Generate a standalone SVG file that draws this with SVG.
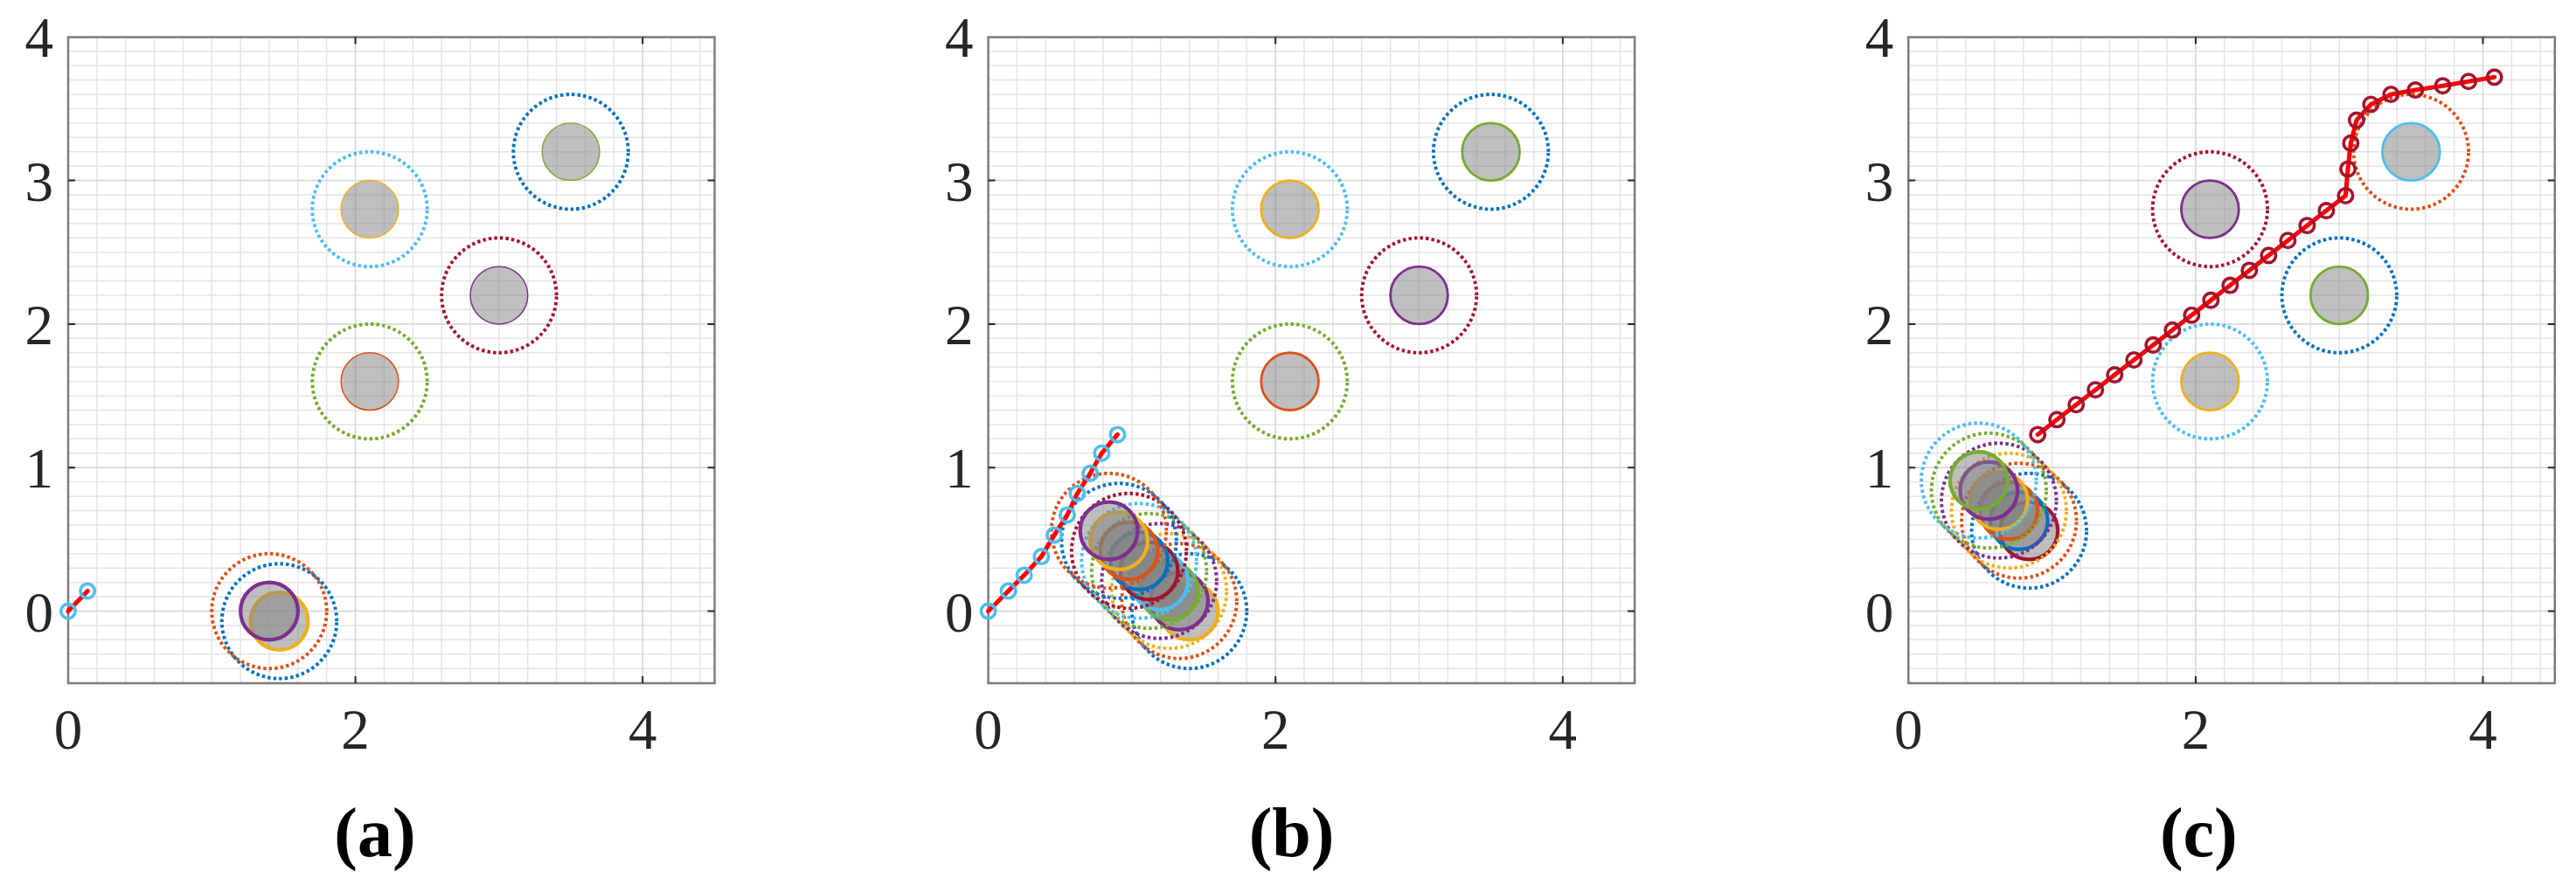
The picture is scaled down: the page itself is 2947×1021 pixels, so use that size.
<svg xmlns="http://www.w3.org/2000/svg" xmlns:xlink="http://www.w3.org/1999/xlink" width="2947" height="1021" viewBox="0 0 2947 1021">
<style>
.tick{font-family:"Liberation Serif","Times New Roman",serif;font-size:65px;fill:#262626}
.tx{text-anchor:middle}
.ty{text-anchor:end}
.lab{font-family:"Liberation Serif","Times New Roman",serif;font-size:80px;font-weight:bold;text-anchor:middle;fill:#000}
.gmin{fill:none;stroke:#e4e4e4;stroke-width:0.009}
.gmaj{fill:none;stroke:#d4d4d4;stroke-width:0.009}
.box{fill:none;stroke:#7c7c7c;stroke-width:2.5}
.tk{stroke:#262626;stroke-width:2}
.dot{fill:none;stroke-width:0.024;stroke-dasharray:0.021 0.019}
.obs{fill:#7f7f7f;fill-opacity:0.5}
.thin{stroke-width:0.009}
.med{stroke-width:0.017}
.thick{stroke-width:0.026}
.c0{stroke:#0072BD}.c1{stroke:#D95319}.c2{stroke:#EDB120}.c3{stroke:#7E2F8E}.c4{stroke:#77AC30}.c5{stroke:#4DBEEE}.c6{stroke:#A2142F}
.path{fill:none;stroke:#FF0000;stroke-width:0.031;stroke-linejoin:round;stroke-linecap:round}
.mk{fill:none;stroke-width:0.022}
</style>
<defs>
<g id="axes">
<g transform="translate(78 699.5) scale(164.3 -164.3)">
<path class="gmin" d="M0.2 -0.5V4M0.4 -0.5V4M0.6 -0.5V4M0.8 -0.5V4M1 -0.5V4M1.2 -0.5V4M1.4 -0.5V4M1.6 -0.5V4M1.8 -0.5V4M2.2 -0.5V4M2.4 -0.5V4M2.6 -0.5V4M2.8 -0.5V4M3 -0.5V4M3.2 -0.5V4M3.4 -0.5V4M3.6 -0.5V4M3.8 -0.5V4M4.2 -0.5V4M4.4 -0.5V4M0 -0.4H4.5M0 -0.3H4.5M0 -0.2H4.5M0 -0.1H4.5M0 0.1H4.5M0 0.2H4.5M0 0.3H4.5M0 0.4H4.5M0 0.5H4.5M0 0.6H4.5M0 0.7H4.5M0 0.8H4.5M0 0.9H4.5M0 1.1H4.5M0 1.2H4.5M0 1.3H4.5M0 1.4H4.5M0 1.5H4.5M0 1.6H4.5M0 1.7H4.5M0 1.8H4.5M0 1.9H4.5M0 2.1H4.5M0 2.2H4.5M0 2.3H4.5M0 2.4H4.5M0 2.5H4.5M0 2.6H4.5M0 2.7H4.5M0 2.8H4.5M0 2.9H4.5M0 3.1H4.5M0 3.2H4.5M0 3.3H4.5M0 3.4H4.5M0 3.5H4.5M0 3.6H4.5M0 3.7H4.5M0 3.8H4.5M0 3.9H4.5"/>
<path class="gmaj" d="M2 -0.5V4M4 -0.5V4M0 0H4.5M0 1H4.5M0 2H4.5M0 3H4.5"/>
</g>
<rect class="box" x="78" y="42.5" width="739.5" height="739.5"/>
<path class="tk" d="M406.6 782v-8M735.2 782v-8M406.6 42.5v8M735.2 42.5v8M78 535.2h8M78 370.9h8M78 206.6h8M817.5 699.5h-8M817.5 535.2h-8M817.5 370.9h-8M817.5 206.6h-8"/>
</g>
</defs>

<!-- Panel (a) -->
<g id="panel-a">
<use xlink:href="#axes" href="#axes"/>
<g transform="translate(78 699.5) scale(164.3 -164.3)">
<g id="a-static">
<g id="a-obs1"><circle class="obs thin c1" cx="2.1" cy="1.6" r="0.2"/><circle class="dot c4" cx="2.1" cy="1.6" r="0.4"/></g>
<g id="a-obs2"><circle class="obs thin c2" cx="2.1" cy="2.8" r="0.2"/><circle class="dot c5" cx="2.1" cy="2.8" r="0.4"/></g>
<g id="a-obs3"><circle class="obs thin c3" cx="3.0" cy="2.2" r="0.2"/><circle class="dot c6" cx="3.0" cy="2.2" r="0.4"/></g>
<g id="a-obs4"><circle class="obs thin c4" cx="3.5" cy="3.2" r="0.2"/><circle class="dot c0" cx="3.5" cy="3.2" r="0.4"/></g>
</g>
<g id="a-dynamic">
<circle class="dot c0" cx="1.47" cy="-0.07" r="0.4"/>
<circle class="obs thick c2" cx="1.47" cy="-0.07" r="0.2"/>
<circle class="dot c1" cx="1.40" cy="0" r="0.4"/>
<circle class="obs thick c3" cx="1.40" cy="0" r="0.2"/>
</g>
<g id="a-path">
<polyline class="path" points="0,0 0.135,0.14"/>
<circle class="mk c5" cx="0" cy="0" r="0.05"/>
<circle class="mk c5" cx="0.135" cy="0.14" r="0.05"/>
</g>
</g>
<g id="a-labels">
<text class="tick ty" x="61" y="722.5">0</text>
<text class="tick ty" x="61" y="558.2">1</text>
<text class="tick ty" x="61" y="393.9">2</text>
<text class="tick ty" x="61" y="229.6">3</text>
<text class="tick ty" x="61" y="65.3">4</text>
<text class="tick tx" x="78" y="857">0</text>
<text class="tick tx" x="406.6" y="857">2</text>
<text class="tick tx" x="735.2" y="857">4</text>
<text class="lab" x="429" y="980">(a)</text>
</g>
</g>

<!-- Panel (b) -->
<g id="panel-b" transform="translate(1052.6 0)">
<use xlink:href="#axes" href="#axes"/>
<g transform="translate(78 699.5) scale(164.3 -164.3)">
<g id="b-static">
<g id="b-obs1"><circle class="obs med c1" cx="2.1" cy="1.6" r="0.2"/><circle class="dot c4" cx="2.1" cy="1.6" r="0.4"/></g>
<g id="b-obs2"><circle class="obs med c2" cx="2.1" cy="2.8" r="0.2"/><circle class="dot c5" cx="2.1" cy="2.8" r="0.4"/></g>
<g id="b-obs3"><circle class="obs med c3" cx="3.0" cy="2.2" r="0.2"/><circle class="dot c6" cx="3.0" cy="2.2" r="0.4"/></g>
<g id="b-obs4"><circle class="obs med c4" cx="3.5" cy="3.2" r="0.2"/><circle class="dot c0" cx="3.5" cy="3.2" r="0.4"/></g>
</g>
<g id="b-dynamic">
<circle class="dot c0" cx="1.40" cy="0" r="0.4"/>
<circle class="obs thick c2" cx="1.40" cy="0" r="0.2"/>
<circle class="dot c1" cx="1.33" cy="0.07" r="0.4"/>
<circle class="obs thick c3" cx="1.33" cy="0.07" r="0.2"/>
<circle class="dot c2" cx="1.26" cy="0.14" r="0.4"/>
<circle class="obs thick c4" cx="1.26" cy="0.14" r="0.2"/>
<circle class="dot c3" cx="1.19" cy="0.21" r="0.4"/>
<circle class="obs thick c5" cx="1.19" cy="0.21" r="0.2"/>
<circle class="dot c4" cx="1.12" cy="0.28" r="0.4"/>
<circle class="obs thick c6" cx="1.12" cy="0.28" r="0.2"/>
<circle class="dot c5" cx="1.05" cy="0.35" r="0.4"/>
<circle class="obs thick c0" cx="1.05" cy="0.35" r="0.2"/>
<circle class="dot c6" cx="0.98" cy="0.42" r="0.4"/>
<circle class="obs thick c1" cx="0.98" cy="0.42" r="0.2"/>
<circle class="dot c0" cx="0.91" cy="0.49" r="0.4"/>
<circle class="obs thick c2" cx="0.91" cy="0.49" r="0.2"/>
<circle class="dot c1" cx="0.84" cy="0.56" r="0.4"/>
<circle class="obs thick c3" cx="0.84" cy="0.56" r="0.2"/>
</g>
<g id="b-path">
<polyline class="path" points="0,0 0.14,0.14 0.25,0.25 0.37,0.38 0.46,0.53 0.55,0.67 0.62,0.82 0.71,0.96 0.79,1.10 0.90,1.23"/>
<g class="mk c5">
<circle cx="0" cy="0" r="0.05"/><circle cx="0.14" cy="0.14" r="0.05"/><circle cx="0.25" cy="0.25" r="0.05"/><circle cx="0.37" cy="0.38" r="0.05"/><circle cx="0.46" cy="0.53" r="0.05"/><circle cx="0.55" cy="0.67" r="0.05"/><circle cx="0.62" cy="0.82" r="0.05"/><circle cx="0.71" cy="0.96" r="0.05"/><circle cx="0.79" cy="1.10" r="0.05"/><circle cx="0.90" cy="1.23" r="0.05"/>
</g>
</g>
</g>
<g id="b-labels">
<text class="tick ty" x="61" y="722.5">0</text>
<text class="tick ty" x="61" y="558.2">1</text>
<text class="tick ty" x="61" y="393.9">2</text>
<text class="tick ty" x="61" y="229.6">3</text>
<text class="tick ty" x="61" y="65.3">4</text>
<text class="tick tx" x="78" y="857">0</text>
<text class="tick tx" x="406.6" y="857">2</text>
<text class="tick tx" x="735.2" y="857">4</text>
<text class="lab" x="425" y="980">(b)</text>
</g>
</g>

<!-- Panel (c) -->
<g id="panel-c" transform="translate(2105.3 0)">
<use xlink:href="#axes" href="#axes"/>
<g transform="translate(78 699.5) scale(164.3 -164.3)">
<g id="c-static">
<g id="c-obs1"><circle class="obs med c2" cx="2.1" cy="1.6" r="0.2"/><circle class="dot c5" cx="2.1" cy="1.6" r="0.4"/></g>
<g id="c-obs2"><circle class="obs med c3" cx="2.1" cy="2.8" r="0.2"/><circle class="dot c6" cx="2.1" cy="2.8" r="0.4"/></g>
<g id="c-obs3"><circle class="obs med c4" cx="3.0" cy="2.2" r="0.2"/><circle class="dot c0" cx="3.0" cy="2.2" r="0.4"/></g>
<g id="c-obs4"><circle class="obs med c5" cx="3.5" cy="3.2" r="0.2"/><circle class="dot c1" cx="3.5" cy="3.2" r="0.4"/></g>
</g>
<g id="c-dynamic">
<circle class="dot c0" cx="0.84" cy="0.56" r="0.4"/>
<circle class="obs thick c6" cx="0.84" cy="0.56" r="0.2"/>
<circle class="dot c1" cx="0.77" cy="0.63" r="0.4"/>
<circle class="obs thick c0" cx="0.77" cy="0.63" r="0.2"/>
<circle class="dot c2" cx="0.70" cy="0.70" r="0.4"/>
<circle class="obs thick c1" cx="0.70" cy="0.70" r="0.2"/>
<circle class="dot c3" cx="0.63" cy="0.77" r="0.4"/>
<circle class="obs thick c2" cx="0.63" cy="0.77" r="0.2"/>
<circle class="dot c4" cx="0.56" cy="0.84" r="0.4"/>
<circle class="obs thick c3" cx="0.56" cy="0.84" r="0.2"/>
<circle class="dot c5" cx="0.49" cy="0.91" r="0.4"/>
<circle class="obs thick c4" cx="0.49" cy="0.91" r="0.2"/>
</g>
<g id="c-path">
<polyline class="path" points="0.9,1.23 1.034,1.334 1.168,1.438 1.302,1.542 1.436,1.646 1.57,1.75 1.704,1.854 1.838,1.958 1.972,2.062 2.106,2.166 2.24,2.27 2.374,2.374 2.508,2.478 2.642,2.582 2.776,2.686 2.91,2.79 3.044,2.894 3.06,3.08 3.08,3.26 3.12,3.42 3.22,3.53 3.36,3.6 3.53,3.63 3.72,3.66 3.9,3.69 4.08,3.72"/>
<g class="mk c6">
<circle cx="0.9" cy="1.23" r="0.05"/><circle cx="1.034" cy="1.334" r="0.05"/><circle cx="1.168" cy="1.438" r="0.05"/><circle cx="1.302" cy="1.542" r="0.05"/><circle cx="1.436" cy="1.646" r="0.05"/><circle cx="1.57" cy="1.75" r="0.05"/><circle cx="1.704" cy="1.854" r="0.05"/><circle cx="1.838" cy="1.958" r="0.05"/><circle cx="1.972" cy="2.062" r="0.05"/><circle cx="2.106" cy="2.166" r="0.05"/><circle cx="2.24" cy="2.27" r="0.05"/><circle cx="2.374" cy="2.374" r="0.05"/><circle cx="2.508" cy="2.478" r="0.05"/><circle cx="2.642" cy="2.582" r="0.05"/><circle cx="2.776" cy="2.686" r="0.05"/><circle cx="2.91" cy="2.79" r="0.05"/><circle cx="3.044" cy="2.894" r="0.05"/><circle cx="3.06" cy="3.08" r="0.05"/><circle cx="3.08" cy="3.26" r="0.05"/><circle cx="3.12" cy="3.42" r="0.05"/><circle cx="3.22" cy="3.53" r="0.05"/><circle cx="3.36" cy="3.6" r="0.05"/><circle cx="3.53" cy="3.63" r="0.05"/><circle cx="3.72" cy="3.66" r="0.05"/><circle cx="3.9" cy="3.69" r="0.05"/><circle cx="4.08" cy="3.72" r="0.05"/>
</g>
</g>
</g>
<g id="c-labels">
<text class="tick ty" x="61" y="722.5">0</text>
<text class="tick ty" x="61" y="558.2">1</text>
<text class="tick ty" x="61" y="393.9">2</text>
<text class="tick ty" x="61" y="229.6">3</text>
<text class="tick ty" x="61" y="65.3">4</text>
<text class="tick tx" x="78" y="857">0</text>
<text class="tick tx" x="406.6" y="857">2</text>
<text class="tick tx" x="735.2" y="857">4</text>
<text class="lab" x="410" y="980">(c)</text>
</g>
</g>
</svg>
